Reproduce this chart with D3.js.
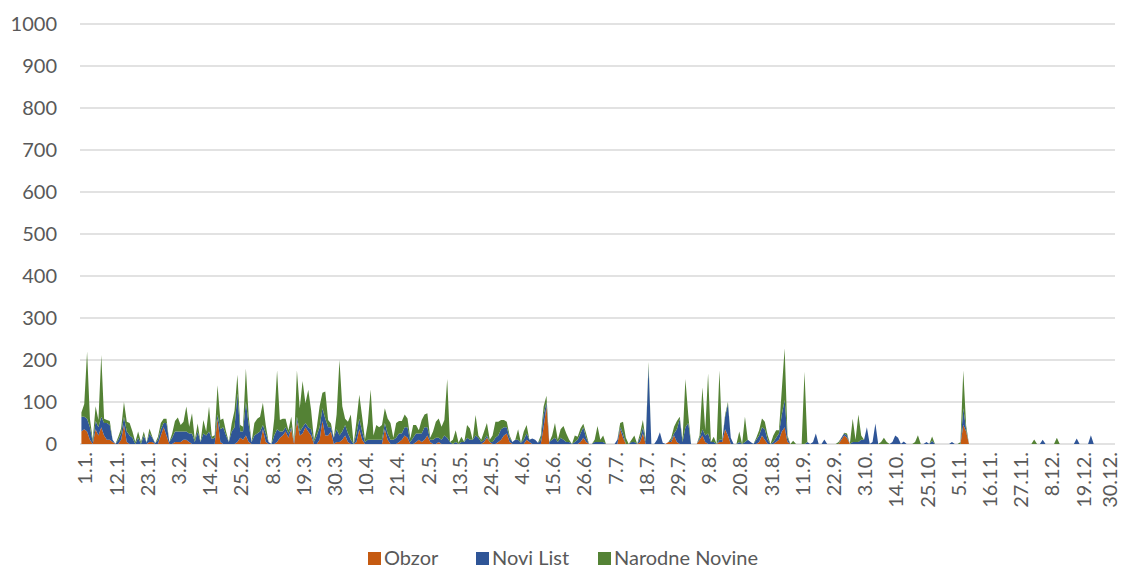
<!DOCTYPE html>
<html>
<head>
<meta charset="utf-8">
<script src="https://cdn.jsdelivr.net/npm/d3@7"></script>
<style>
  body { margin: 0; background: #fff; }
  text { font-family: Lato, "Open Sans", sans-serif; fill: #595959; }
</style>
</head>
<body>
<div id="chart-container"></div>
<script>
// Daily counts, 1.1. .. 31.12. (365 days)
const obzor = [
  30,35,30,10,0,35,20,40,20,10, 10,5,0,0,10,45,5,0,0,0, 0,0,0,0,5,5,0,0,20,40,
  20,0,0,5,5,5,10,10,5,0, 0,0,0,0,0,0,0,0,60,5, 0,0,0,0,0,5,15,10,20,5,
  0,0,0,0,35,5,0,0,0,5, 15,20,30,15,35,0,55,20,25,40, 30,20,0,0,10,55,20,20,30,0,
  5,5,10,20,5,0,0,5,35,10, 0,0,0,0,0,0,0,35,10,0, 0,0,5,10,20,15,0,0,5,10,
  5,10,20,5,0,0,5,0,0,0, 0,0,0,0,0,0,0,0,0,0, 0,0,5,15,5,0,0,5,10,20,
  25,5,0,0,0,0,0,10,5,0, 0,0,0,40,90,0,0,0,0,0, 0,0,0,0,0,0,5,15,5,0,
  0,0,0,0,0,0,0,0,0,0, 35,15,0,0,0,0,0,5,25,0, 0,0,0,0,0,0,0,5,5,20,
  5,0,0,0,0,0,0,0,10,20, 5,0,0,0,0,5,5,35,20,0, 0,0,0,0,0,0,0,0,0,5,
  20,10,0,0,0,5,10,30,40,5, 0,0,0,0,0,0,0,0,0,0, 0,0,0,0,0,0,0,0,10,20,
  15,0,0,0,0,0,0,0,0,0, 0,0,0,0,0,0,0,0,0,0, 0,0,0,0,0,0,0,0,0,0,
  0,0,0,0,0,0,0,0,0,0, 0,45,30,0,0,0,0,0,0,0, 0,0,0,0,0,0,0,0,0,0,
  0,0,0,0,0,0,0,0,0,0, 0,0,0,0,0,0,0,0,0,0, 0,0,0,0,0,0,0,0,0,0,
  0,0,0,0,0
];
const noviList = [
  35,30,30,30,5,20,20,25,30,40, 35,5,0,10,15,20,25,20,15,0, 15,0,20,3,20,10,2,10,15,10,
  30,5,15,25,25,25,20,20,20,25, 5,30,5,25,20,30,12,15,10,30, 40,20,5,30,40,115,15,20,80,40,
  5,20,25,30,10,20,5,0,20,30, 15,10,10,10,5,5,10,10,15,10, 10,15,5,20,30,30,40,20,10,15,
  30,15,20,25,20,10,0,20,25,20, 5,10,10,10,10,10,10,15,15,10, 10,15,20,15,20,25,5,15,20,15,
  20,30,20,5,10,15,10,10,20,15, 5,0,5,0,5,5,15,10,10,20, 15,5,5,5,0,5,15,15,25,20,
  15,10,5,10,10,3,10,15,5,13, 10,3,10,30,10,5,10,15,5,15, 10,5,5,0,5,10,20,25,10,0,
  0,5,5,5,5,0,0,0,0,10, 5,10,0,0,5,5,0,10,15,5, 185,0,0,10,28,3,0,0,5,5,
  30,60,5,40,50,0,0,0,5,15, 15,25,5,5,0,5,5,30,75,15, 0,0,5,0,5,10,5,0,10,15,
  20,25,10,0,5,10,15,40,65,10, 0,0,0,0,0,0,5,0,5,25, 0,0,11,0,0,0,0,0,5,5,
  5,0,5,5,5,10,10,40,0,5, 49,0,0,0,0,0,5,20,15,0, 6,0,0,0,0,0,0,0,5,0,
  8,0,0,0,0,0,0,5,0,0, 0,40,5,0,0,0,0,0,0,0, 0,0,0,0,0,0,0,0,0,0,
  0,0,0,0,0,0,0,0,0,10, 0,0,0,0,0,0,0,0,0,0, 0,13,0,0,0,0,21,0,0,0,
  0,0,0,0,0
];
const narodneNovine = [
  10,30,160,20,5,35,17,147,10,7, 10,0,0,7,12,35,23,30,15,5, 15,5,10,0,12,2,0,7,15,10,
  10,0,10,25,33,15,23,59,16,48, 5,19,0,32,10,59,5,6,70,22, 21,10,0,19,40,45,15,11,80,20,
  0,30,35,35,53,20,0,0,40,140, 27,30,20,8,25,0,110,55,110,47, 89,46,5,20,50,37,65,17,9,0,
  35,180,60,15,28,60,0,30,57,35, 5,40,120,10,35,30,35,35,36,40, 5,35,30,30,30,21,8,30,20,8,
  32,30,33,5,20,38,46,31,37,140, 0,10,28,3,12,0,30,27,0,49, 5,5,20,30,5,15,38,33,22,17,
  13,5,0,0,25,0,20,20,0,0, 0,0,10,19,15,0,10,35,5,20, 33,20,5,0,15,7,12,8,10,0,
  0,5,38,5,15,0,0,0,0,0, 10,28,15,0,5,15,0,10,17,5, 10,0,0,0,0,0,0,0,5,16,
  20,5,5,115,20,0,0,0,5,100, 13,143,0,12,0,165,0,5,5,0, 0,0,25,0,60,0,0,0,5,13,
  21,18,11,0,15,18,8,60,123,5, 0,8,0,0,0,172,0,0,0,0, 0,0,0,0,0,0,0,5,0,2,
  5,0,55,5,65,10,0,0,0,0, 0,0,5,15,5,0,0,0,0,0, 0,0,0,0,5,21,0,0,0,0,
  10,0,0,0,0,0,0,0,0,0, 5,90,9,0,0,0,0,0,0,0, 0,0,0,0,0,0,0,0,0,0,
  0,0,0,0,0,0,11,0,0,0, 0,0,0,0,15,0,0,0,0,0, 0,0,0,0,0,0,0,0,0,0,
  0,0,0,0,0
];
const seriesNames = ["Obzor", "Novi List", "Narodne Novine"];
const tickLabels = ["1.1.","12.1.","23.1.","3.2.","14.2.","25.2.","8.3.","19.3.","30.3.",
  "10.4.","21.4.","2.5.","13.5.","24.5.","4.6.","15.6.","26.6.","7.7.","18.7.","29.7.",
  "9.8.","20.8.","31.8.","11.9.","22.9.","3.10.","14.10.","25.10.","5.11.","16.11.",
  "27.11.","8.12.","19.12.","30.12."];
const yTicks = [0,100,200,300,400,500,600,700,800,900,1000];
const colors = ["#c55a11", "#2f5597", "#548235"];

const W = 1123, H = 570;
const plot = { left: 80, right: 1115, top: 24, bottom: 444 };

const rows = obzor.map((v, i) => ({
  i: i,
  "Obzor": v,
  "Novi List": noviList[i],
  "Narodne Novine": narodneNovine[i]
}));

const svg = d3.select("#chart-container")
  .append("svg")
  .attr("width", W)
  .attr("height", H);

const x = d3.scalePoint()
  .domain(rows.map(d => d.i))
  .range([plot.left, plot.right])
  .padding(0.5);

const y = d3.scaleLinear()
  .domain([0, 1000])
  .range([plot.bottom, plot.top]);

// gridlines
svg.append("g")
  .selectAll("line")
  .data(yTicks)
  .enter().append("line")
  .attr("x1", plot.left)
  .attr("x2", plot.right)
  .attr("y1", d => y(d))
  .attr("y2", d => y(d))
  .attr("stroke", "#d9d9d9")
  .attr("stroke-width", 1.3);

// stacked areas
const stack = d3.stack().keys(seriesNames);
const layers = stack(rows);

const area = d3.area()
  .x(d => x(d.data.i))
  .y0(d => y(d[0]))
  .y1(d => y(d[1]));

svg.append("g")
  .selectAll("path")
  .data(layers)
  .enter().append("path")
  .attr("d", area)
  .attr("fill", (d, k) => colors[k]);

// y axis labels
const yAxis = d3.axisLeft(y)
  .tickValues(yTicks)
  .tickFormat(d3.format("d"))
  .tickSize(0)
  .tickPadding(0);
const gy = svg.append("g")
  .attr("transform", `translate(${plot.left - 23},0)`)
  .call(yAxis);
gy.select(".domain").remove();
gy.selectAll("text")
  .style("font-size", "20px")
  .attr("fill", "#595959");

// x axis labels (every 11th day, rotated); keep last one inside the page
svg.append("g")
  .selectAll("text")
  .data(tickLabels)
  .enter().append("text")
  .attr("transform", (d, k) => `translate(${Math.min(x(k * 11) + 4, W - 13)},${plot.bottom + 8}) rotate(-90)`)
  .attr("dy", "0.35em")
  .attr("text-anchor", "end")
  .style("font-size", "20px")
  .text(d => d);

// legend
const legendX = [368, 476, 598];
const legend = svg.append("g");
seriesNames.forEach((name, k) => {
  legend.append("rect")
    .attr("x", legendX[k])
    .attr("y", 552)
    .attr("width", 13)
    .attr("height", 13)
    .attr("fill", colors[k]);
  legend.append("text")
    .attr("x", legendX[k] + 16)
    .attr("y", 565)
    .style("font-size", "20px")
    .text(name);
});
</script>
</body>
</html>
